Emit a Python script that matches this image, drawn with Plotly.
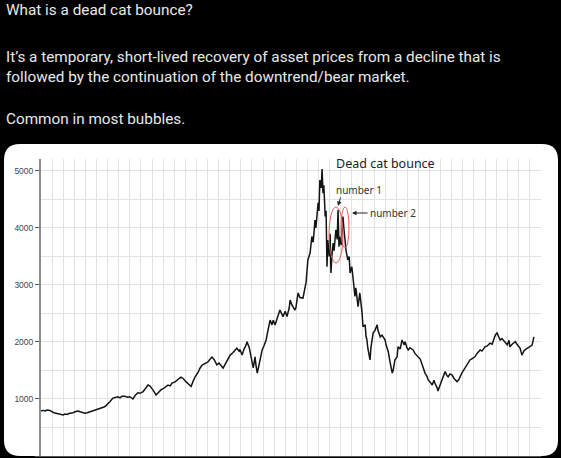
import plotly.graph_objects as go

# ---------------- data ----------------
years = [
    1994.00, 1994.05, 1994.09, 1994.14, 1994.20, 1994.25, 1994.29, 1994.34, 1994.38, 1994.43,
    1994.50, 1994.54, 1994.59, 1994.63, 1994.68, 1994.72, 1994.77, 1994.83, 1994.88, 1994.92,
    1994.99, 1995.04, 1995.10, 1995.17, 1995.22, 1995.28, 1995.35, 1995.42, 1995.46, 1995.51,
    1995.55, 1995.62, 1995.67, 1995.73, 1995.78, 1995.82, 1995.89, 1995.94, 1996.00, 1996.05,
    1996.07, 1996.12, 1996.18, 1996.23, 1996.30, 1996.34, 1996.41, 1996.45, 1996.50, 1996.52,
    1996.57, 1996.59, 1996.64, 1996.70, 1996.75, 1996.79, 1996.86, 1996.91, 1996.95, 1997.02,
    1997.06, 1997.11, 1997.15, 1997.20, 1997.27, 1997.31, 1997.38, 1997.42, 1997.47, 1997.54,
    1997.58, 1997.63, 1997.69, 1997.76, 1997.81, 1997.85, 1997.90, 1997.96, 1998.01, 1998.05,
    1998.10, 1998.14, 1998.19, 1998.26, 1998.32, 1998.37, 1998.41, 1998.46, 1998.48, 1998.53,
    1998.57, 1998.62, 1998.64, 1998.69, 1998.71, 1998.75, 1998.78, 1998.80, 1998.82, 1998.84,
    1998.87, 1998.91, 1998.98, 1999.02, 1999.07, 1999.11, 1999.16, 1999.20, 1999.23, 1999.27,
    1999.32, 1999.36, 1999.38, 1999.43, 1999.45, 1999.50, 1999.54, 1999.59, 1999.61, 1999.65,
    1999.72, 1999.74, 1999.79, 1999.83, 1999.90, 1999.95, 1999.97, 2000.01, 2000.06, 2000.10,
    2000.13, 2000.17, 2000.19, 2000.24, 2000.26, 2000.28, 2000.31, 2000.33, 2000.35, 2000.37,
    2000.40, 2000.42, 2000.44, 2000.46, 2000.49, 2000.51, 2000.53, 2000.55, 2000.58, 2000.60,
    2000.64, 2000.67, 2000.69, 2000.71, 2000.73, 2000.76, 2000.78, 2000.80, 2000.82, 2000.85,
    2000.87, 2000.91, 2000.94, 2000.96, 2001.00, 2001.03, 2001.07, 2001.09, 2001.14, 2001.18,
    2001.21, 2001.23, 2001.25, 2001.30, 2001.32, 2001.34, 2001.36, 2001.41, 2001.43, 2001.48,
    2001.52, 2001.57, 2001.59, 2001.64, 2001.68, 2001.75, 2001.77, 2001.82, 2001.86, 2001.91,
    2001.93, 2001.97, 2002.02, 2002.04, 2002.09, 2002.13, 2002.18, 2002.20, 2002.24, 2002.27,
    2002.31, 2002.38, 2002.42, 2002.49, 2002.54, 2002.60, 2002.65, 2002.69, 2002.72, 2002.76,
    2002.81, 2002.85, 2002.87, 2002.92, 2002.94, 2002.99, 2003.03, 2003.08, 2003.10, 2003.14,
    2003.17, 2003.21, 2003.26, 2003.30, 2003.37, 2003.41, 2003.44, 2003.48, 2003.55, 2003.60,
    2003.66, 2003.71, 2003.77, 2003.82, 2003.89, 2003.93, 2004.00, 2004.05, 2004.11, 2004.16,
    2004.23, 2004.27, 2004.32, 2004.34, 2004.38, 2004.45, 2004.50, 2004.54, 2004.56, 2004.61,
    2004.68, 2004.72, 2004.79, 2004.83, 2004.88, 2004.95, 2004.99, 2005.06, 2005.10,
]
prices = [
    795, 800, 790, 805, 800, 775, 760, 750, 745, 730,
    720, 735, 730, 745, 750, 760, 775, 790, 775, 770,
    750, 760, 775, 790, 800, 820, 840, 860, 880, 910,
    950, 1015, 1030, 1040, 1020, 1050, 1050, 1030, 1040, 1010,
    1000, 1060, 1110, 1100, 1130, 1170, 1245, 1230, 1190, 1160,
    1100, 1070, 1110, 1160, 1180, 1210, 1245, 1230, 1280, 1300,
    1320, 1360, 1385, 1360, 1300, 1270, 1220, 1300, 1390, 1470,
    1540, 1595, 1620, 1650, 1700, 1735, 1690, 1600, 1630, 1580,
    1540, 1600, 1680, 1770, 1810, 1850, 1890, 1840, 1870, 1770,
    1870, 1950, 2005, 1900, 1830, 1700, 1545, 1640, 1740, 1600,
    1455, 1600, 1860, 1930, 2035, 2200, 2385, 2300, 2380, 2300,
    2420, 2480, 2560, 2480, 2445, 2540, 2445, 2600, 2735, 2650,
    2560, 2600, 2860, 2780, 2770, 2970, 3050, 3440, 3560, 3850,
    3750, 4140, 4000, 4440, 4300, 4840, 4700, 5035, 4610, 4750,
    4200, 4300, 3320, 3790, 3500, 3900, 3210, 3500, 3735, 3600,
    3965, 3800, 4315, 3670, 3850, 3700, 3910, 4200, 4000, 3790,
    3600, 3440, 3500, 3210, 3320, 3100, 2800, 2950, 2620, 2860,
    2700, 2510, 2270, 2300, 2100, 2035, 1890, 1685, 1900, 2160,
    2200, 2300, 2200, 2090, 2120, 2035, 1950, 1830, 1650, 1455,
    1500, 1685, 1740, 1915, 1880, 2035, 1950, 2005, 1900, 1860,
    1900, 1860, 1800, 1740, 1700, 1565, 1450, 1400, 1335, 1300,
    1245, 1330, 1280, 1200, 1140, 1250, 1335, 1420, 1480, 1410,
    1390, 1440, 1420, 1360, 1305, 1340, 1390, 1460, 1545, 1600,
    1685, 1710, 1740, 1800, 1860, 1840, 1915, 1930, 1980, 1960,
    2120, 2160, 2080, 2035, 2060, 2005, 1950, 2030, 1915, 1960,
    2005, 1960, 1890, 1770, 1850, 1890, 1910, 1945, 2090,
]
y_tick_values = [0, 1000, 2000, 3000, 4000, 5000]
y_tick_labels = ["0", "1000", "2000", "3000", "4000", "5000"]

tweet_lines = [
    "What is a dead cat bounce?",
    "It\u2019s a temporary, short-lived recovery of asset prices from a decline that is",
    "followed by the continuation of the downtrend/bear market.",
    "Common in most bubbles.",
]
chart_title = "Dead cat bounce"
label_1 = "number 1"
label_2 = "number 2"

# ---------------- layout geometry ----------------
W, H = 561, 458
L, R, T, B = 41, 20, 159, 2
PW, PH = W - L - R, H - T - B


def px_x(px):
    return (px - L) / PW


def px_y(py):
    return (H - B - py) / PH


fig = go.Figure()
fig.add_trace(go.Scatter(
    x=years, y=prices, mode="lines",
    line=dict(color="#141414", width=1.5),
    hoverinfo="skip", showlegend=False,
))

# white rounded card
x0, x1 = px_x(4), px_x(558)
y0, y1 = px_y(456), px_y(144)
rx, ry = 16 / PW, 16 / PH
card = (f"M {x0+rx},{y1} L {x1-rx},{y1} Q {x1},{y1} {x1},{y1-ry} "
        f"L {x1},{y0+ry} Q {x1},{y0} {x1-rx},{y0} L {x0+rx},{y0} "
        f"Q {x0},{y0} {x0},{y0+ry} L {x0},{y1-ry} Q {x0},{y1} {x0+rx},{y1} Z")
shapes = [dict(type="path", xref="paper", yref="paper", path=card,
               fillcolor="white", line=dict(width=0), layer="below")]

# red ellipses around the two bounces
for (ex0, ey0, ex1, ey1) in [(329, 207, 343, 263), (341, 207, 349, 248)]:
    shapes.append(dict(type="circle", xref="paper", yref="paper",
                       x0=px_x(ex0), x1=px_x(ex1), y0=px_y(ey1), y1=px_y(ey0),
                       line=dict(color="#e25b5b", width=1), layer="above"))

annotations = []
tweet_y = [10, 57, 77, 119]
for txt, ty in zip(tweet_lines, tweet_y):
    annotations.append(dict(
        text=txt, xref="paper", yref="paper", x=px_x(4), y=px_y(ty),
        xanchor="left", yanchor="middle", showarrow=False,
        font=dict(family="Roboto", size=15.3, color="#e7e9ea"),
    ))

annotations.append(dict(
    text=chart_title, xref="paper", yref="paper", x=px_x(385), y=px_y(163),
    xanchor="center", yanchor="middle", showarrow=False,
    font=dict(family="Noto Sans", size=12.5, color="#222222"),
))
annotations.append(dict(
    text=label_1, xref="paper", yref="paper", x=px_x(358.5), y=px_y(190),
    xanchor="center", yanchor="middle", showarrow=False,
    font=dict(family="Noto Sans", size=10, color="#333333"),
))
annotations.append(dict(
    text=label_2, xref="paper", yref="paper", x=px_x(393), y=px_y(213),
    xanchor="center", yanchor="middle", showarrow=False,
    font=dict(family="Noto Sans", size=10, color="#333333"),
))
# arrows
annotations.append(dict(
    text="", xref="paper", yref="paper", x=px_x(352), y=px_y(213),
    ax=17, ay=0, showarrow=True, arrowhead=2, arrowsize=0.9,
    arrowwidth=1, arrowcolor="#222222",
))
annotations.append(dict(
    text="", xref="paper", yref="paper", x=px_x(338), y=px_y(206),
    ax=3, ay=-10, showarrow=True, arrowhead=2, arrowsize=0.9,
    arrowwidth=1, arrowcolor="#222222",
))

fig.update_layout(
    width=W, height=H,
    margin=dict(l=L, r=R, t=T, b=B, pad=0),
    paper_bgcolor="black", plot_bgcolor="white",
    shapes=shapes, annotations=annotations,
    showlegend=False,
    xaxis=dict(
        range=[1994, 2005.26], tick0=1994, dtick=0.25,
        showgrid=True, gridcolor="#e2e2e2", gridwidth=1,
        showticklabels=False, ticks="", zeroline=False,
        showline=True, linecolor="#555555", linewidth=1,
        fixedrange=True,
    ),
    yaxis=dict(
        range=[0, 5210], tickvals=y_tick_values, ticktext=y_tick_labels,
        showgrid=True, gridcolor="#e2e2e2", gridwidth=1,
        minor=dict(dtick=500, tick0=0, showgrid=True, gridcolor="#e2e2e2", gridwidth=1),
        ticks="outside", ticklen=4, tickcolor="#555555", tickwidth=1,
        tickfont=dict(family="Liberation Sans", size=8.5, color="#444444"),
        zeroline=False, showline=True, linecolor="#8c8c8c", linewidth=2,
        fixedrange=True,
    ),
)

fig.write_html("out.html")
